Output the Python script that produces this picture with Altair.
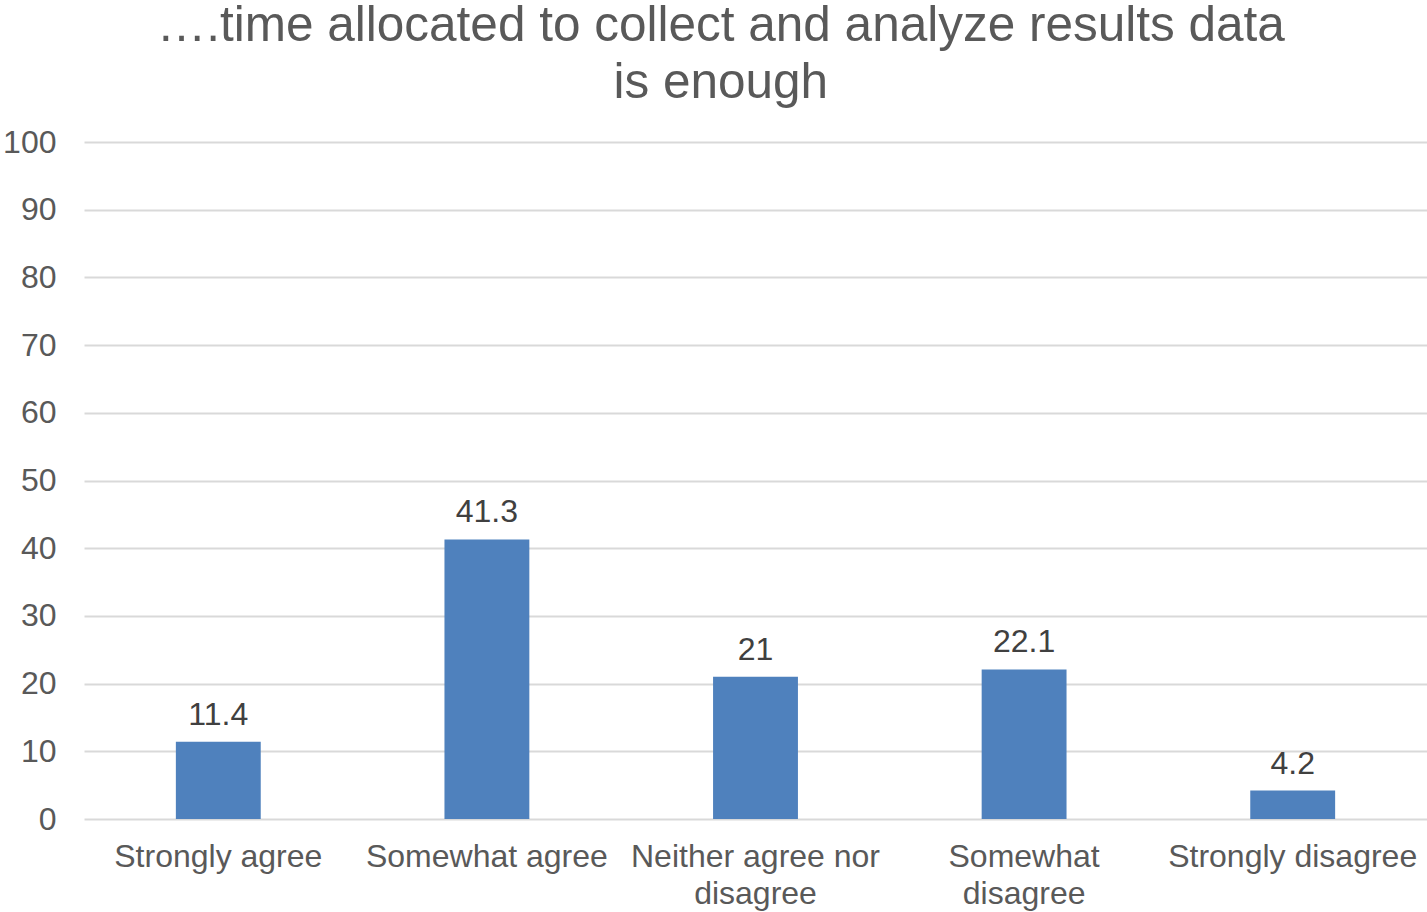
import altair as alt
import pandas as pd

categories = ["Strongly agree", "Somewhat agree", "Neither agree nor|disagree", "Somewhat|disagree", "Strongly disagree"]
values = [11.4, 41.3, 21, 22.1, 4.2]
value_labels = ["11.4", "41.3", "21", "22.1", "4.2"]

df = pd.DataFrame({"cat": categories, "val": values, "lab": value_labels})

FONT = "Liberation Sans"

x = alt.X("cat:N", sort=categories, title=None,
          scale=alt.Scale(paddingInner=0.684, paddingOuter=0.342),
          axis=alt.Axis(labelAngle=0, labelExpr="split(datum.label, '|')",
                        labelFontSize=32, labelColor="#595959", labelFont=FONT,
                        labelPadding=22, labelLineHeight=37, ticks=False, domain=False,
                        grid=False, labelLimit=400))
y = alt.Y("val:Q", title=None,
          scale=alt.Scale(domain=[0, 100]),
          axis=alt.Axis(values=list(range(0, 101, 10)), labelFontSize=32, labelColor="#595959",
                        labelFont=FONT, labelPadding=28, ticks=False, domain=False,
                        gridColor="#D9D9D9", gridWidth=2))

base = alt.Chart(df).encode(x=x, y=y)
bars = base.mark_bar(color="#4F81BD")
text = base.mark_text(baseline="alphabetic", dy=-17, fontSize=32, font=FONT,
                      color="#404040").encode(text="lab:N")

chart = (bars + text).properties(
    width=1343, height=677,
    background="white",
    title=alt.TitleParams(["….time allocated to collect and analyze results data", "is enough"],
                          fontSize=49.5, font=FONT, color="#595959", fontWeight="normal",
                          anchor="middle", frame="bounds", lineHeight=57, offset=18, dx=6),
    autosize=alt.AutoSizeParams(type="none"),
    padding={"left": 84, "top": 142, "right": 0, "bottom": 93},
).configure_view(stroke="transparent", strokeWidth=0).configure_axis(domain=False)

chart.save("out.html", embed_options={"renderer": "svg", "actions": False})
